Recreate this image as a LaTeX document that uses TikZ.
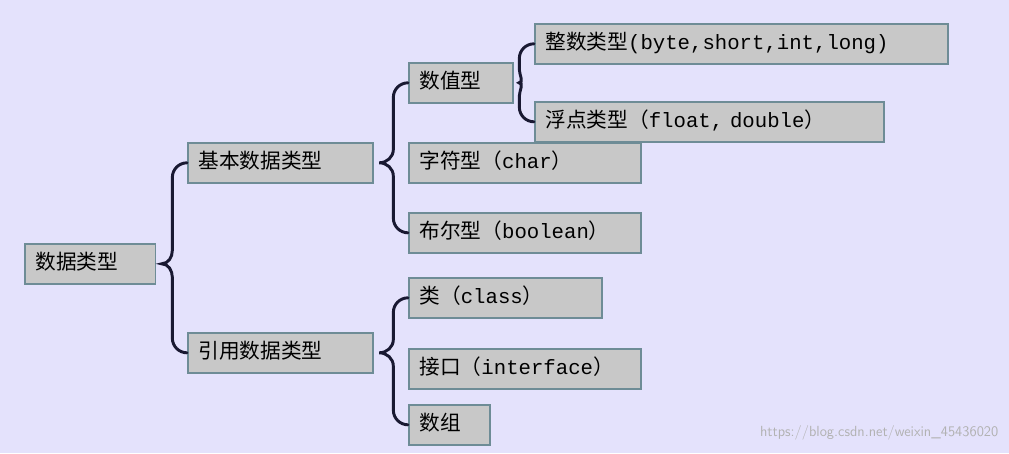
\documentclass[tikz,border=0pt]{standalone}
\usepackage{fontspec}
\setmainfont{Liberation Mono}
\newfontfamily\cjk{Noto Sans CJK SC}
\usetikzlibrary{calc}
\definecolor{bgpurple}{RGB}{228,226,252}
\definecolor{boxgray}{RGB}{200,200,200}
\definecolor{boxline}{RGB}{110,140,150}
\definecolor{bracecol}{RGB}{25,25,50}
\tikzset{
  item/.style={draw=boxline, fill=boxgray, line width=1.2pt, anchor=north west,
    minimum height=30pt, inner xsep=8pt, text height=12pt, text depth=3pt,
    align=left, text width=#1,
    font=\fontsize{15.5pt}{17pt}\selectfont},
  brace/.style={draw=bracecol, line width=2.2pt, line cap=round},
}
\newcommand{\branch}[3]{%
  \draw[brace] let \p1=(#1.east), \p2=(#2.west), \p3=(#3.west) in
    (\p2) to[out=180,in=90] (\x2-11pt,\y2-11pt) -- (\x2-11pt,\y1+10pt)
    to[out=-90,in=0] (\x1+4pt,\y1) to[out=0,in=90] (\x2-11pt,\y1-10pt)
    -- (\x2-11pt,\y3+11pt) to[out=-90,in=180] (\p3);}
\begin{document}
\begin{tikzpicture}[x=0.75pt,y=-0.75pt]
      \fill[bgpurple] (0,0) rectangle (1009,453);
      \useasboundingbox (0,0) rectangle (1009,453);
      % boxes
      \node[item=82pt] (root) at (24,243) {\cjk 数据类型};
      \node[item=123pt] (basic) at (187,142) {\cjk 基本数据类型};
      \node[item=123pt] (ref) at (187,332) {\cjk 引用数据类型};
      \node[item=62pt] (num) at (408,62) {\cjk 数值型};
      \node[item=158pt] (chr) at (408,142) {{\cjk 字符型（}char{\cjk ）}};
      \node[item=158pt] (bool) at (408,212) {{\cjk 布尔型（}boolean{\cjk ）}};
      \node[item=129pt] (cls) at (408,277) {{\cjk 类（}class{\cjk ）}};
      \node[item=158pt] (intf) at (408,348) {{\cjk 接口（}interface{\cjk ）}};
      \node[item=45pt] (arr) at (408,404) {\cjk 数组};
      \node[item=294pt] (int) at (534,23) {{\cjk 整数类型}(byte,short,int,long)};
      \node[item=246pt] (flt) at (534,101) {{\cjk 浮点类型（}float, double{\cjk ）}};
      % braces
      \branch{root}{basic}{ref}
      \branch{basic}{num}{bool}
      \branch{ref}{cls}{arr}
      \branch{num}{int}{flt}
      \node[anchor=east, text=gray!60, font=\fontsize{11pt}{13pt}\selectfont\sffamily] (mark) at (1003,433) {https://blog.csdn.net/weixin\_45436020};
\end{tikzpicture}
\end{document}
